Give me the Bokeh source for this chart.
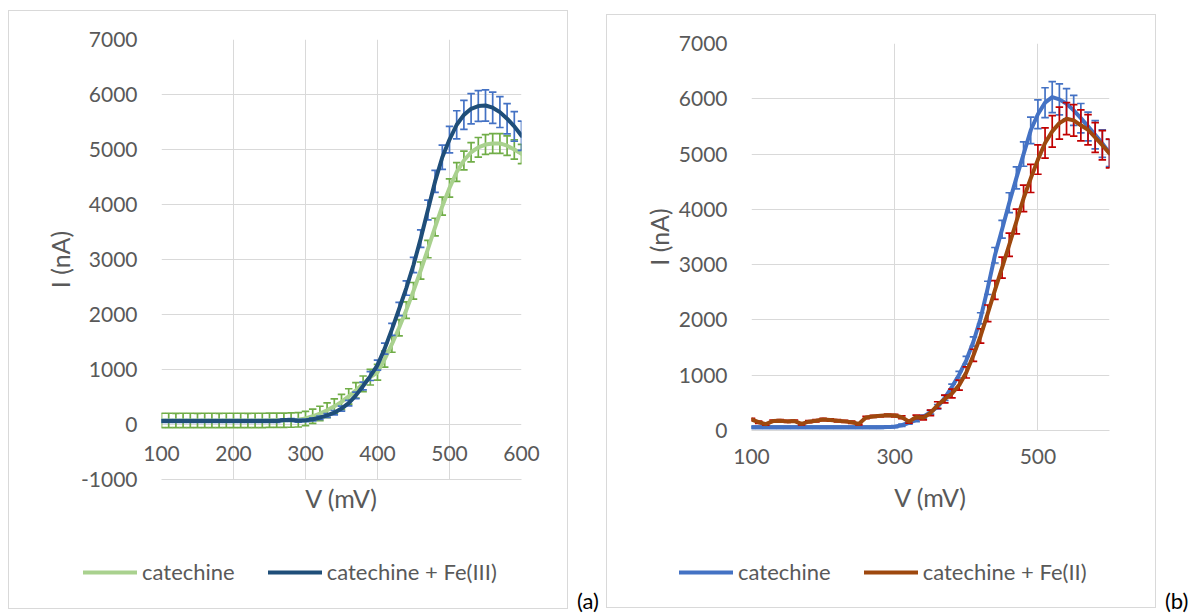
from bokeh.plotting import figure
from bokeh.models import FixedTicker, Legend, LegendItem, Div, Range1d
from bokeh.layouts import row, column
from bokeh.embed import file_html
from bokeh.resources import INLINE

V = [100, 110, 120, 130, 140, 150, 160, 170, 180, 190,
     200, 210, 220, 230, 240, 250, 260, 270, 280, 290,
     300, 310, 320, 330, 340, 350, 360, 370, 380, 390,
     400, 410, 420, 430, 440, 450, 460, 470, 480, 490,
     500, 510, 520, 530, 540, 550, 560, 570, 580, 590, 600]

# Panel (a)
A_cat = [75, 75, 74, 75, 75, 74, 75, 75, 74, 75, 75, 75, 74, 75, 75, 76, 76, 77, 80, 85,
         110, 150, 200, 260, 330, 410, 510, 620, 740, 860, 950, 1190, 1460, 1760, 2080,
         2430, 2800, 3190, 3590, 3970, 4300, 4590, 4800, 4950, 5040, 5090, 5110, 5110,
         5070, 5000, 4920]
A_cat_err = [130, 130, 130, 130, 130, 130, 130, 130, 130, 130, 130, 130, 130, 130, 130,
             130, 130, 130, 130, 130,
             130, 130, 132, 134, 136, 138, 140, 140, 142, 142, 144, 145, 146, 148, 150,
             152, 155, 158, 160, 163, 166, 170, 172, 175, 178, 180, 180, 180, 178, 176, 175]
A_fe3 = [65, 65, 65, 65, 65, 65, 65, 65, 65, 65, 65, 65, 65, 65, 65, 65, 65, 80, 82, 68,
         75, 95, 125, 165, 215, 290, 390, 530, 700, 880, 1080, 1380, 1730, 2100, 2480,
         2900, 3380, 3900, 4420, 4860, 5180, 5450, 5630, 5740, 5790, 5800, 5760, 5680,
         5560, 5420, 5250]
A_fe3_err = [25, 25, 25, 25, 25, 25, 25, 25, 25, 25, 25, 25, 25, 25, 25, 25, 25, 25, 25, 25,
             25, 28, 30, 35, 40, 45, 50, 60, 70, 80, 90, 100, 110, 120, 130, 140, 160, 180,
             200, 220, 240, 255, 265, 275, 280, 285, 285, 280, 275, 270, 265]

# Panel (b)
B_cat = [60, 60, 60, 60, 60, 60, 60, 60, 60, 60, 60, 60, 60, 60, 60, 60, 60, 60, 60, 62,
         70, 95, 140, 190, 250, 330, 430, 590, 790, 1010, 1270, 1610, 2030, 2580, 3170,
         3640, 4120, 4570, 5000, 5430, 5720, 5930, 6030, 5990, 5910, 5790, 5650, 5500,
         5350, 5190, 5020]
B_cat_err = [20, 20, 20, 20, 20, 20, 20, 20, 20, 20, 20, 20, 20, 20, 20, 20, 20, 20, 20, 20,
             20, 22, 25, 28, 30, 35, 40, 45, 50, 60, 70, 85, 100, 120, 140, 160, 180, 200,
             220, 240, 260, 270, 280, 280, 275, 270, 265, 260, 255, 250, 245]
B_fe2 = [200, 150, 115, 170, 175, 165, 170, 120, 160, 175, 200, 190, 175, 165, 150, 120,
         235, 255, 265, 275,
         270, 240, 160, 245, 230, 320, 460, 570, 670, 820, 1050, 1360, 1710, 2120, 2540,
         2945, 3360, 3780, 4200, 4560, 4900, 5200, 5410, 5560, 5640, 5610, 5520, 5440,
         5300, 5160, 5010]
B_fe2_err = [20, 20, 20, 20, 20, 20, 20, 20, 20, 20, 20, 20, 20, 20, 20, 20, 20, 20, 20, 20,
             22, 25, 28, 32, 38, 50, 60, 70, 80, 90, 100, 110, 130, 150, 170, 190, 210, 225,
             240, 255, 265, 275, 285, 290, 290, 285, 280, 275, 270, 265, 260]

A_xticks = [100, 200, 300, 400, 500, 600]
A_yticks = [-1000, 0, 1000, 2000, 3000, 4000, 5000, 6000, 7000]
B_xticks = [100, 300, 500]
B_yticks = [0, 1000, 2000, 3000, 4000, 5000, 6000, 7000]

LABELS_A = ["catechine", "catechine + Fe(III)"]
LABELS_B = ["catechine", "catechine + Fe(II)"]

FONT = "Lato"
TXT = "#595959"
GRID = "#D9D9D9"
BORDER = "1px solid #D9D9D9"
LW = 4


def add_series(p, y, err, line_color, err_color):
    lo = [a - b for a, b in zip(y, err)]
    hi = [a + b for a, b in zip(y, err)]
    p.segment(x0=V, y0=lo, x1=V, y1=hi, line_color=err_color, line_width=1.7)
    p.scatter(x=V, y=hi, marker="dash", size=7.5, line_color=err_color, line_width=1.7)
    p.scatter(x=V, y=lo, marker="dash", size=7.5, line_color=err_color, line_width=1.7)
    return p.line(x=V, y=y, line_color=line_color, line_width=LW,
                  line_join="round", line_cap="round")


def make_plot(w, h, mb, xr, yr, xt, yt, series,
              x_lab_standoff, x_title_standoff, y_title_standoff):
    p = figure(width=w, height=h, x_range=xr, y_range=yr,
               output_backend="svg", toolbar_location=None,
               min_border_left=mb[0], min_border_right=mb[1],
               min_border_top=mb[2], min_border_bottom=mb[3],
               frame_align=False,
               styles={"border-left": BORDER, "border-right": BORDER,
                       "border-top": BORDER})
    p.outline_line_color = None
    p.background_fill_color = "white"
    p.border_fill_color = "white"

    p.xaxis.ticker = FixedTicker(ticks=xt)
    p.yaxis.ticker = FixedTicker(ticks=yt)
    p.yaxis.major_label_overrides = {t: str(t) for t in yt}
    p.xaxis.major_label_overrides = {t: str(t) for t in xt}

    for ax in (p.xaxis, p.yaxis):
        ax.major_tick_line_color = None
        ax.minor_tick_line_color = None
        ax.major_tick_out = 0
        ax.major_tick_in = 0
        ax.minor_tick_out = 0
        ax.minor_tick_in = 0
        ax.major_label_text_font = FONT
        ax.major_label_text_font_size = "21px"
        ax.major_label_text_color = TXT
        ax.axis_label_text_font = FONT
        ax.axis_label_text_font_size = "25px"
        ax.axis_label_text_color = TXT
        ax.axis_label_text_font_style = "normal"
    p.yaxis.axis_line_color = None
    p.xaxis.axis_line_color = GRID
    p.xaxis.axis_line_width = 1
    p.xaxis.axis_label = "V (mV)"
    p.yaxis.axis_label = "I (nA)"
    p.yaxis.major_label_standoff = 24
    p.yaxis.axis_label_standoff = y_title_standoff
    p.xaxis.major_label_standoff = x_lab_standoff
    p.xaxis.axis_label_standoff = x_title_standoff

    p.xgrid.grid_line_color = GRID
    p.ygrid.grid_line_color = GRID
    p.xgrid.grid_line_width = 1
    p.ygrid.grid_line_width = 1

    for s in series:
        add_series(p, *s)
    return p


def make_legend(w, h, labels, series, loc):
    q = figure(width=w, height=h, x_range=Range1d(0, 1), y_range=Range1d(0, 1),
               output_backend="svg", toolbar_location=None,
               x_axis_type=None, y_axis_type=None,
               min_border_left=0, min_border_right=0,
               min_border_top=0, min_border_bottom=0,
               frame_align=False,
               styles={"border-left": BORDER, "border-right": BORDER,
                       "border-bottom": BORDER})
    q.outline_line_color = None
    q.background_fill_color = "white"
    q.border_fill_color = "white"
    # legend proxies: one point of each series (a single point draws no line)
    rs = [q.line(x=V[:1], y=y[:1], line_color=c, line_width=LW, line_cap="round")
          for y, c in series]
    leg = Legend(items=[LegendItem(label=labels[i], renderers=[rs[i]]) for i in range(2)],
                 location=loc, orientation="horizontal",
                 border_line_color=None, background_fill_alpha=0,
                 label_text_font=FONT, label_text_font_size="22px",
                 label_text_color=TXT, glyph_width=54, glyph_height=20,
                 label_standoff=5, spacing=33, padding=0, margin=0)
    q.add_layout(leg)
    return q


pA = make_plot(560, 530, (152, 48, 28, 62), (100, 600), (-1000, 7000),
               A_xticks, A_yticks,
               [(A_cat, A_cat_err, "#A9D18E", "#70AD47"),
                (A_fe3, A_fe3_err, "#1F4E79", "#4472C4")],
               -34, 19, 3)
lA = make_legend(560, 69, LABELS_A, [(A_cat, "#A9D18E"), (A_fe3, "#1F4E79")], (74, 24))

pB = make_plot(550, 530, (144, 48, 28, 115), (100, 600), (0, 7000),
               B_xticks, B_yticks,
               [(B_cat, B_cat_err, "#4472C4", "#4472C4"),
                (B_fe2, B_fe2_err, "#9E480E", "#C00000")],
               18, 15, 2)
lB = make_legend(550, 64, LABELS_B, [(B_cat, "#4472C4"), (B_fe2, "#9E480E")], (72, 23))

colA = column(pA, lA, margin=(10, 0, 0, 8))
colB = column(pB, lB, margin=(14, 0, 0, 0))

div_style = {"font-family": FONT, "font-size": "22px", "color": "#000000",
             "line-height": "22px"}
dA = Div(text="(a)", width=29, height=24, margin=(590, 0, 0, 9), styles=div_style)
dB = Div(text="(b)", width=29, height=24, margin=(590, 0, 0, 9), styles=div_style)

layout = row(colA, dA, colB, dB)

open("out.html", "w").write(file_html(layout, INLINE))
